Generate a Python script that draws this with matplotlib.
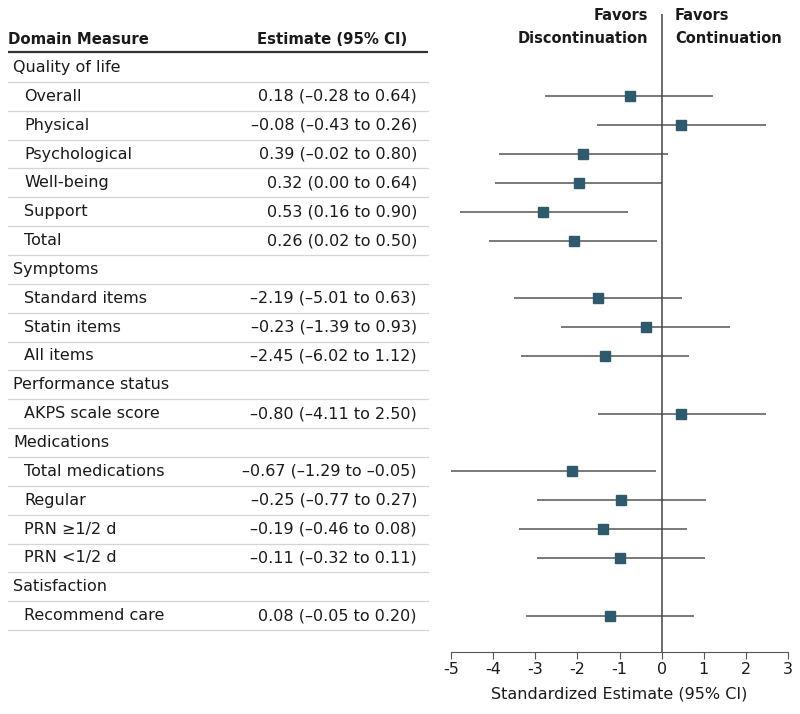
import numpy as np
import matplotlib.pyplot as plt

plt.rcParams["font.family"] = ["DejaVu Sans"]
plt.rcParams["axes.unicode_minus"] = False

# ---- data ----
labels = [
    "Quality of life", "Overall", "Physical", "Psychological", "Well-being",
    "Support", "Total", "Symptoms", "Standard items", "Statin items",
    "All items", "Performance status", "AKPS scale score", "Medications",
    "Total medications", "Regular", "PRN \u22651/2 d", "PRN <1/2 d",
    "Satisfaction", "Recommend care",
]
is_section = [
    True, False, False, False, False, False, False, True, False, False,
    False, True, False, True, False, False, False, False, True, False,
]
estimate_text = [
    "", "0.18 (\u20130.28 to 0.64)", "\u20130.08 (\u20130.43 to 0.26)",
    "0.39 (\u20130.02 to 0.80)", "0.32 (0.00 to 0.64)", "0.53 (0.16 to 0.90)",
    "0.26 (0.02 to 0.50)", "", "\u20132.19 (\u20135.01 to 0.63)",
    "\u20130.23 (\u20131.39 to 0.93)", "\u20132.45 (\u20136.02 to 1.12)", "",
    "\u20130.80 (\u20134.11 to 2.50)", "", "\u20130.67 (\u20131.29 to \u20130.05)",
    "\u20130.25 (\u20130.77 to 0.27)", "\u20130.19 (\u20130.46 to 0.08)",
    "\u20130.11 (\u20130.32 to 0.11)", "", "0.08 (\u20130.05 to 0.20)",
]
# standardized estimates shown in the plot (NaN for section rows)
std_est = [np.nan, -0.75, 0.46, -1.87, -1.97, -2.81, -2.09, np.nan, -1.52, -0.38,
           -1.34, np.nan, 0.47, np.nan, -2.12, -0.96, -1.39, -0.98, np.nan, -1.22]
std_lo = [np.nan, -2.77, -1.53, -3.85, -3.95, -4.79, -4.09, np.nan, -3.50, -2.39,
          -3.34, np.nan, -1.50, np.nan, -5.02, -2.95, -3.38, -2.97, np.nan, -3.23]
std_hi = [np.nan, 1.22, 2.47, 0.14, 0.00, -0.80, -0.11, np.nan, 0.49, 1.63,
          0.65, np.nan, 2.48, np.nan, -0.13, 1.05, 0.60, 1.03, np.nan, 0.76]

W, H = 800, 714
fig = plt.figure(figsize=(W / 100, H / 100), dpi=100)

# row geometry (pixels)
row0_px, pitch = 67.5, 28.85
ax_bot_px, ax_top_px = 652.0, 14.0
ylim = ((ax_bot_px - row0_px) / pitch, (ax_top_px - row0_px) / pitch)
bottom = 1 - ax_bot_px / H
height = (ax_bot_px - ax_top_px) / H

text_c = "#1a1a1a"
n = len(labels)
rows = np.arange(n)

# ---- table ----
tab = fig.add_axes([0, bottom, 440 / W, height])
tab.set_xlim(0, 440)
tab.set_ylim(*ylim)
tab.axis("off")
tab.text(8, (39 - row0_px) / pitch, "Domain Measure", fontsize=10.7, fontweight="bold",
         va="center", ha="left", color=text_c)
tab.text(407, (39 - row0_px) / pitch, "Estimate (95% CI)", fontsize=10.7,
         fontweight="bold", va="center", ha="right", color=text_c)
tab.plot([8, 428], [(52 - row0_px) / pitch] * 2, color="#333333", lw=1.6,
         solid_capstyle="butt")
for i in range(n):
    x = 13 if is_section[i] else 24
    tab.text(x, i, labels[i], fontsize=11.5, va="center", ha="left", color=text_c)
    if estimate_text[i]:
        tab.text(417, i, estimate_text[i], fontsize=11.5, va="center", ha="right",
                 color=text_c)
    tab.plot([8, 428], [i + 0.5] * 2, color="#d4d4d4", lw=0.9)

# ---- forest plot ----
ax = fig.add_axes([451 / W, bottom, (788 - 451) / W, height])
ax.set_xlim(-5, 3)
ax.set_ylim(*ylim)
ax.hlines(rows, std_lo, std_hi, color="#555555", lw=1.1)
ax.plot(std_est, rows, "s", color="#2e5a6d", ms=7, mec="#2e5a6d")
ax.axvline(0, color="#444444", lw=1.1)
for s in ["top", "left", "right"]:
    ax.spines[s].set_visible(False)
ax.spines["bottom"].set_color("#555555")
ax.set_yticks([])
ax.set_xticks(np.arange(-5, 4))
ax.tick_params(axis="x", direction="out", length=5, color="#555555",
               labelsize=11.5, labelcolor=text_c, pad=2)
ax.set_xlabel("Standardized Estimate (95% CI)", fontsize=11.5, color=text_c,
              labelpad=7)

fig.text(648 / W, 1 - 27 / H, "Favors\nDiscontinuation", ha="right", va="center",
         fontsize=10.5, fontweight="bold", color=text_c, linespacing=1.6)
fig.text(675 / W, 1 - 27 / H, "Favors\nContinuation", ha="left", va="center",
         fontsize=10.5, fontweight="bold", color=text_c, linespacing=1.6)

fig.savefig("out.png", dpi=100)
